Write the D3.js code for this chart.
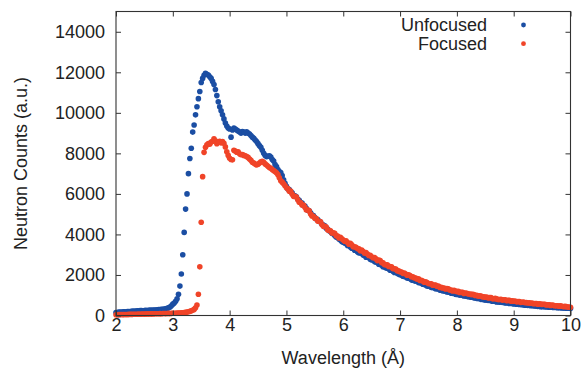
<!DOCTYPE html>
<html>
<head>
<meta charset="utf-8">
<script src="https://cdn.jsdelivr.net/npm/d3@7"></script>
<style>
  body { margin: 0; background: #fff; }
  svg { display: block; font-family: "Liberation Sans", Arial, sans-serif; }
  .axis text { font-size: 18px; fill: #222; }
  .axis line { stroke: #333; }
  .axis path { display: none; }
</style>
</head>
<body>
<script>
// wavelength grid: 2.000 .. 10.000 A in 0.025 steps
var lambdaStart = 2.0, lambdaStep = 0.025;

var unfocused = [
  150,140,165,170,160,180,185,175,195,200,
  190,210,215,205,225,230,220,240,245,235,
  250,255,248,262,265,258,272,275,270,285,
  290,288,300,310,318,330,350,380,420,480,
  560,620,700,830,1050,1450,2050,3000,4100,5250,
  6000,7000,7750,8250,9050,9400,9900,10300,10700,11050,
  11500,11700,11850,11950,11900,11870,11780,11700,11550,11400,
  11150,10850,10550,10300,10100,9900,9700,9500,9350,9250,
  9200,8800,9150,9250,9200,9150,9100,9050,9000,9080,
  9050,9000,9060,9000,8950,8880,8800,8740,8660,8580,
  8480,8380,8300,8150,8000,7900,7840,7860,7880,7820,
  7700,7620,7450,7350,7200,7100,7050,6900,6700,6520,
  6380,6240,6220,6110,6060,5930,5910,5860,5730,5680,
  5570,5544,5428,5402,5286,5190,5164,5068,4952,4926,
  4830,4760,4740,4650,4605,4500,4465,4420,4310,4260,
  4180,4142,4054,4036,3948,3870,3852,3774,3726,3648,
  3620,3578,3551,3454,3447,3380,3323,3316,3219,3202,
  3150,3090,3090,3060,2980,2970,2880,2880,2860,2770,
  2750,2730,2660,2640,2620,2530,2520,2490,2410,2390,
  2350,2326,2312,2238,2234,2180,2126,2132,2088,2034,
  2010,2000,1940,1930,1910,1850,1840,1820,1760,1740,
  1710,1702,1684,1626,1618,1600,1542,1524,1516,1458,
  1440,1438,1386,1384,1372,1320,1318,1306,1254,1242,
  1220,1212,1204,1156,1158,1150,1102,1094,1096,1048,
  1040,1041,1007,1018,994,965,976,952,923,924,
  905,901,872,878,839,840,836,797,803,774,
  765,769,738,752,726,705,719,698,672,676,
  660,666,642,648,619,630,616,592,603,579,
  575,577,559,566,543,550,527,529,506,513,
  500,503,486,494,472,475,468,446,454,437,
  435,440,426,431,422,412,418,408,399,404,
  395,386,391,382,372,378,368,359,364,355,
  350
];

var focused = [
  40,35,45,42,48,45,50,52,48,55,
  58,54,60,62,58,65,68,64,70,72,
  68,75,78,74,80,82,78,85,88,84,
  90,92,88,95,98,94,100,103,99,105,
  108,112,110,116,120,125,130,138,145,155,
  168,185,205,230,260,300,380,520,1050,2400,
  4600,6850,8050,8300,8420,8480,8450,8560,8600,8720,
  8620,8480,8560,8600,8520,8580,8500,8320,8080,7900,
  7760,7700,7680,8150,8120,8060,8080,7980,7930,7940,
  7900,7880,7840,7800,7720,7660,7560,7520,7470,7430,
  7460,7520,7580,7610,7560,7480,7420,7360,7300,7260,
  7200,7150,7100,7040,6950,6800,6650,6580,6500,6400,
  6300,6260,6130,6140,5990,5880,5880,5850,5710,5590,
  5560,5450,5450,5340,5210,5210,5160,5010,4910,4900,
  4800,4780,4660,4650,4620,4490,4400,4400,4370,4230,
  4200,4180,4070,4080,4060,3940,3920,3830,3860,3790,
  3720,3660,3680,3600,3520,3560,3490,3390,3390,3370,
  3300,3290,3200,3230,3160,3070,3100,3030,2960,2970,
  2900,2850,2860,2800,2710,2730,2710,2610,2600,2520,
  2500,2500,2420,2420,2400,2310,2310,2290,2210,2200,
  2160,2150,2080,2100,2050,1990,2010,1970,1910,1910,
  1860,1850,1790,1810,1730,1740,1700,1640,1660,1620,
  1580,1570,1570,1490,1500,1500,1440,1450,1380,1390,
  1360,1360,1310,1330,1320,1260,1260,1210,1240,1210,
  1180,1190,1140,1150,1140,1090,1110,1100,1060,1060,
  1040,1040,1030,990,1000,950,970,960,920,920,
  900,910,870,880,880,835,825,845,820,790,
  790,800,760,775,775,735,745,745,710,720,
  700,707,674,686,688,650,657,659,626,638,
  620,628,601,614,582,595,593,561,574,562,
  550,553,551,519,532,530,498,511,499,482,
  480,483,461,474,457,435,448,436,419,422,
  410
];

var seriesNames = ["Unfocused", "Focused"];
var seriesColors = ["#1b4ea3", "#f04428"];
var xTicks = [2, 3, 4, 5, 6, 7, 8, 9, 10];
var yTicks = [0, 2000, 4000, 6000, 8000, 10000, 12000, 14000];

var width = 581, height = 371,
    plotLeft = 116, plotRight = 570.5, plotTop = 11.5, plotBottom = 315.5;

var svg = d3.select("body").append("svg")
    .attr("width", width).attr("height", height);

var x = d3.scaleLinear().domain([2, 10]).range([plotLeft, plotRight]);
var y = d3.scaleLinear().domain([0, 15000]).range([plotBottom, plotTop]);

function toPoints(vals) {
  return vals.map(function(v, i) { return [lambdaStart + i * lambdaStep, v]; });
}

// unfocused first, focused on top
[unfocused, focused].forEach(function(vals, k) {
  svg.append("g").selectAll("circle")
    .data(toPoints(vals))
    .enter().append("circle")
      .attr("cx", function(d) { return x(d[0]); })
      .attr("cy", function(d) { return y(d[1]); })
      .attr("r", 2.8)
      .attr("fill", seriesColors[k]);
});

// axes, ticks pointing inward on all four sides
svg.append("g").attr("class", "axis")
    .attr("transform", "translate(0," + plotBottom + ")")
    .call(d3.axisBottom(x).tickValues(xTicks).tickSize(-5).tickPadding(3));
svg.append("g").attr("class", "axis")
    .attr("transform", "translate(0," + plotTop + ")")
    .call(d3.axisTop(x).tickValues(xTicks).tickSize(-5).tickFormat(""));
svg.append("g").attr("class", "axis")
    .attr("transform", "translate(" + plotLeft + ",0)")
    .call(d3.axisLeft(y).tickValues(yTicks).tickSize(-5).tickPadding(11)
      .tickFormat(d3.format("d")));
svg.append("g").attr("class", "axis")
    .attr("transform", "translate(" + plotRight + ",0)")
    .call(d3.axisRight(y).tickValues(yTicks).tickSize(-5).tickFormat(""));

svg.append("rect")
    .attr("x", plotLeft).attr("y", plotTop)
    .attr("width", plotRight - plotLeft).attr("height", plotBottom - plotTop)
    .attr("fill", "none").attr("stroke", "#333").attr("stroke-width", 1.1);

// axis titles
svg.append("text")
    .attr("x", (plotLeft + plotRight) / 2).attr("y", 364)
    .attr("text-anchor", "middle")
    .style("font-size", "18px").attr("fill", "#222")
    .text("Wavelength (Å)");
svg.append("text")
    .attr("transform", "translate(27," + (plotTop + plotBottom) / 2 + ") rotate(-90)")
    .attr("text-anchor", "middle")
    .style("font-size", "18px").attr("fill", "#222")
    .text("Neutron Counts (a.u.)");

// legend
var legend = svg.append("g").selectAll("g")
    .data(seriesNames)
    .enter().append("g")
      .attr("transform", function(d, i) { return "translate(0," + (25 + i * 18.7) + ")"; });
legend.append("text")
    .attr("x", 487).attr("dy", "0.35em")
    .attr("text-anchor", "end")
    .style("font-size", "18px").attr("fill", "#222")
    .text(function(d) { return d; });
legend.append("circle")
    .attr("cx", 523.5).attr("r", 2.4)
    .attr("fill", function(d, i) { return seriesColors[i]; });
</script>
</body>
</html>
